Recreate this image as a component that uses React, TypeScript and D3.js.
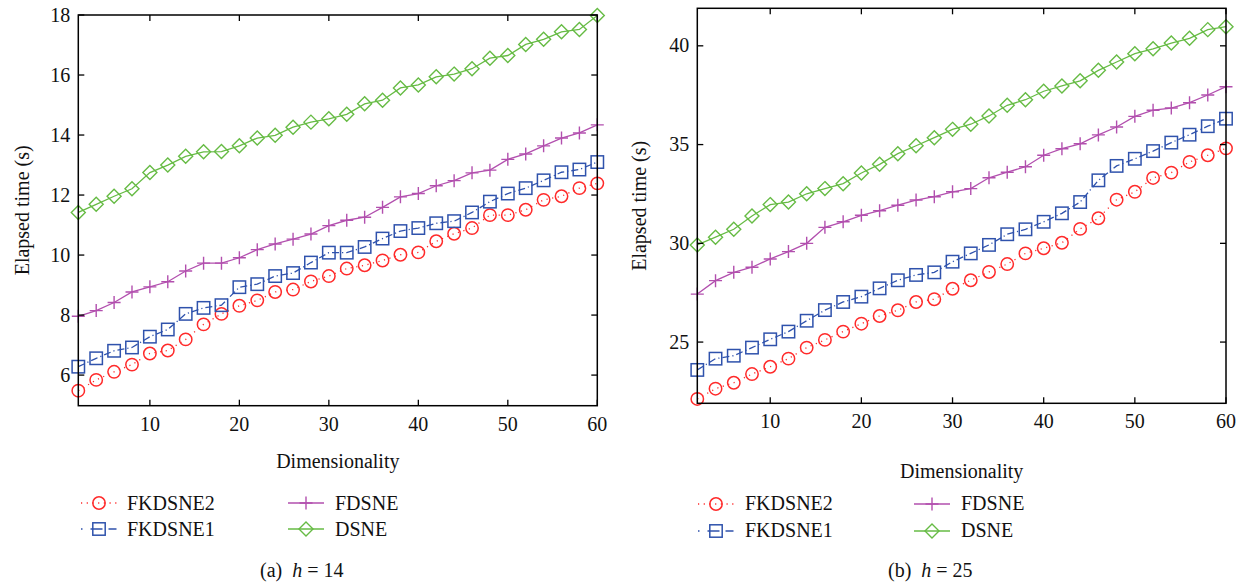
import React, { useEffect, useRef } from 'react';
import * as d3 from 'd3';

// Dimensionality (x categories)
const DIMS = [2, 4, 6, 8, 10, 12, 14, 16, 18, 20, 22, 24, 26, 28, 30, 32, 34, 36, 38, 40, 42, 44, 46, 48, 50, 52, 54, 56, 58, 60];
const X_TICKS = [10, 20, 30, 40, 50, 60];

// (a) h = 14
const A_FKDSNE2 = [5.48, 5.84, 6.11, 6.35, 6.72, 6.82, 7.19, 7.69, 8.04, 8.31, 8.49, 8.77, 8.85, 9.12, 9.30, 9.55, 9.66, 9.82, 10.01, 10.09, 10.46, 10.71, 10.90, 11.33, 11.33, 11.51, 11.84, 11.96, 12.23, 12.39];
const A_FKDSNE1 = [6.28, 6.56, 6.81, 6.92, 7.28, 7.52, 8.04, 8.24, 8.33, 8.93, 9.03, 9.30, 9.40, 9.75, 10.08, 10.08, 10.27, 10.55, 10.80, 10.90, 11.06, 11.13, 11.42, 11.78, 12.05, 12.23, 12.49, 12.76, 12.85, 13.10];
const A_FDSNE = [7.96, 8.15, 8.42, 8.77, 8.94, 9.11, 9.47, 9.73, 9.73, 9.91, 10.18, 10.37, 10.53, 10.70, 10.98, 11.16, 11.26, 11.59, 11.94, 12.05, 12.31, 12.48, 12.74, 12.83, 13.19, 13.37, 13.64, 13.90, 14.07, 14.34];
const A_DSNE = [11.42, 11.69, 11.96, 12.21, 12.75, 13.00, 13.29, 13.44, 13.45, 13.64, 13.90, 13.99, 14.26, 14.43, 14.54, 14.69, 15.04, 15.16, 15.57, 15.67, 15.94, 16.03, 16.21, 16.56, 16.65, 17.02, 17.19, 17.44, 17.52, 17.98];
const A_Y_TICKS = [6, 8, 10, 12, 14, 16, 18];

// (b) h = 25
const B_FKDSNE2 = [22.12, 22.64, 22.94, 23.38, 23.75, 24.16, 24.72, 25.11, 25.53, 25.93, 26.32, 26.61, 27.03, 27.17, 27.70, 28.13, 28.55, 28.95, 29.49, 29.75, 30.03, 30.73, 31.27, 32.21, 32.61, 33.31, 33.58, 34.12, 34.46, 34.81];
const B_FKDSNE1 = [23.59, 24.16, 24.31, 24.72, 25.14, 25.53, 26.08, 26.62, 27.03, 27.30, 27.72, 28.13, 28.40, 28.53, 29.07, 29.49, 29.92, 30.46, 30.71, 31.09, 31.52, 32.09, 33.19, 33.92, 34.28, 34.67, 35.10, 35.50, 35.93, 36.31];
const B_FDSNE = [27.43, 28.11, 28.53, 28.79, 29.21, 29.58, 30.00, 30.81, 31.09, 31.42, 31.65, 31.93, 32.19, 32.36, 32.61, 32.77, 33.32, 33.60, 33.88, 34.46, 34.79, 35.04, 35.49, 35.89, 36.43, 36.74, 36.85, 37.12, 37.51, 37.93];
const B_DSNE = [29.92, 30.31, 30.71, 31.38, 31.96, 32.09, 32.51, 32.77, 33.02, 33.56, 34.00, 34.54, 34.94, 35.35, 35.77, 36.03, 36.45, 36.99, 37.27, 37.70, 37.97, 38.23, 38.76, 39.18, 39.60, 39.85, 40.14, 40.38, 40.82, 40.97];
const B_Y_TICKS = [25, 30, 35, 40];

const SERIES_NAMES = ['FKDSNE2', 'FKDSNE1', 'FDSNE', 'DSNE'];
const Y_TITLE = 'Elapsed time (s)';
const X_TITLE = 'Dimensionality';

const STYLES: Record<string, { color: string; dash: string | null; legendDash: string | null; marker: string }> = {
  FKDSNE2: { color: '#ff2a2a', dash: '1.2 4.5', legendDash: '1.2 4.5', marker: 'circle' },
  FKDSNE1: { color: '#2f52ac', dash: '7 3 1.2 3', legendDash: '1.5 8 12 6 8 20', marker: 'square' },
  FDSNE: { color: '#b24fae', dash: null, legendDash: null, marker: 'plus' },
  DSNE: { color: '#66bb44', dash: null, legendDash: null, marker: 'diamond' },
};

const FONT = "'Liberation Serif', 'Times New Roman', serif";

function drawMarker(g: any, type: string, x: number, y: number, color: string) {
  if (type === 'circle') {
    g.append('circle').attr('cx', x).attr('cy', y).attr('r', 6.2)
      .attr('fill', 'none').attr('stroke', color).attr('stroke-width', 1.5);
  } else if (type === 'square') {
    g.append('rect').attr('x', x - 6.2).attr('y', y - 6.2).attr('width', 12.4).attr('height', 12.4)
      .attr('fill', 'none').attr('stroke', color).attr('stroke-width', 1.5);
  } else if (type === 'diamond') {
    const s = 7;
    g.append('path').attr('d', `M${x},${y - s}L${x + s},${y}L${x},${y + s}L${x - s},${y}Z`)
      .attr('fill', 'none').attr('stroke', color).attr('stroke-width', 1.4);
  } else {
    const s = 6.5;
    g.append('path').attr('d', `M${x - s},${y}L${x + s},${y}M${x},${y - s}L${x},${y + s}`)
      .attr('fill', 'none').attr('stroke', color).attr('stroke-width', 1.4);
  }
}

const PANELS = [
  {
    series: [A_FKDSNE2, A_FKDSNE1, A_FDSNE, A_DSNE],
    yDomain: [4.98, 18], yTicks: A_Y_TICKS,
    left: 78.3, right: 597.3, top: 15, bottom: 405.7,
    yTitleX: 29, xTitleY: 467.5,
    legend: { c1: 81, c2: 288, w: 36, t1: 127, t2: 335, r1: 503, r2: 529, dy: 6.5 },
    caption: { x: 260, y: 577, label: '(a)', num: '14' },
  },
  {
    series: [B_FKDSNE2, B_FKDSNE1, B_FDSNE, B_DSNE],
    yDomain: [21.9, 41.9], yTicks: B_Y_TICKS,
    left: 697.3, right: 1226, top: 8.3, bottom: 403.3,
    yTitleX: 646, xTitleY: 477.5,
    legend: { c1: 698, c2: 914, w: 36, t1: 745, t2: 961, r1: 504, r2: 531, dy: 6 },
    caption: { x: 888, y: 577, label: '(b)', num: '25' },
  },
];

export default function App() {
  const ref = useRef<SVGSVGElement | null>(null);

  useEffect(() => {
    const svg = d3.select(ref.current);
    svg.selectAll('*').remove();

    PANELS.forEach((p) => {
      const x = d3.scaleLinear().domain([2, 60]).range([p.left, p.right]);
      const y = d3.scaleLinear().domain(p.yDomain).range([p.bottom, p.top]);
      const g = svg.append('g');

      // series lines + markers
      p.series.forEach((vals, si) => {
        const name = SERIES_NAMES[si];
        const st = STYLES[name];
        const pts = DIMS.map((d, i) => [d, vals[i]] as [number, number]);
        const line = d3.line<[number, number]>().x((d) => x(d[0])).y((d) => y(d[1]));
        const path = g.append('path').attr('d', line(pts)).attr('fill', 'none')
          .attr('stroke', st.color).attr('stroke-width', 1.3);
        if (st.dash) path.attr('stroke-dasharray', st.dash);
        const mg = g.append('g');
        pts.forEach((pt) => drawMarker(mg, st.marker, x(pt[0]), y(pt[1]), st.color));
      });

      // box
      g.append('rect').attr('x', p.left).attr('y', p.top)
        .attr('width', p.right - p.left).attr('height', p.bottom - p.top)
        .attr('fill', 'none').attr('stroke', '#000').attr('stroke-width', 1.5);

      const tl = 6;
      // x ticks
      X_TICKS.forEach((t) => {
        const xx = x(t);
        g.append('line').attr('x1', xx).attr('x2', xx).attr('y1', p.bottom).attr('y2', p.bottom - tl)
          .attr('stroke', '#000').attr('stroke-width', 1.3);
        g.append('line').attr('x1', xx).attr('x2', xx).attr('y1', p.top).attr('y2', p.top + tl)
          .attr('stroke', '#000').attr('stroke-width', 1.3);
        g.append('text').attr('x', xx).attr('y', p.bottom + 25).attr('text-anchor', 'middle')
          .attr('font-family', FONT).attr('font-size', 20).attr('fill', '#111').text(String(t));
      });
      // y ticks
      p.yTicks.forEach((t) => {
        const yy = y(t);
        g.append('line').attr('x1', p.left).attr('x2', p.left + tl).attr('y1', yy).attr('y2', yy)
          .attr('stroke', '#000').attr('stroke-width', 1.3);
        g.append('line').attr('x1', p.right).attr('x2', p.right - tl).attr('y1', yy).attr('y2', yy)
          .attr('stroke', '#000').attr('stroke-width', 1.3);
        g.append('text').attr('x', p.left - 8).attr('y', yy + 6.5).attr('text-anchor', 'end')
          .attr('font-family', FONT).attr('font-size', 20).attr('fill', '#111').text(String(t));
      });

      // axis titles
      const cy = (p.top + p.bottom) / 2;
      g.append('text').attr('transform', `translate(${p.yTitleX},${cy}) rotate(-90)`)
        .attr('text-anchor', 'middle').attr('font-family', FONT).attr('font-size', 20)
        .attr('fill', '#111').text(Y_TITLE);
      g.append('text').attr('x', (p.left + p.right) / 2).attr('y', p.xTitleY)
        .attr('text-anchor', 'middle').attr('font-family', FONT).attr('font-size', 20)
        .attr('fill', '#111').text(X_TITLE);

      // legend
      const L = p.legend;
      const entries = [
        { name: SERIES_NAMES[0], cx: L.c1, tx: L.t1, cy: L.r1 },
        { name: SERIES_NAMES[1], cx: L.c1, tx: L.t1, cy: L.r2 },
        { name: SERIES_NAMES[2], cx: L.c2, tx: L.t2, cy: L.r1 },
        { name: SERIES_NAMES[3], cx: L.c2, tx: L.t2, cy: L.r2 },
      ];
      entries.forEach((e) => {
        const st = STYLES[e.name];
        const ln = g.append('line').attr('x1', e.cx).attr('x2', e.cx + L.w).attr('y1', e.cy).attr('y2', e.cy)
          .attr('stroke', st.color).attr('stroke-width', 1.3);
        if (st.legendDash) ln.attr('stroke-dasharray', st.legendDash);
        drawMarker(g, st.marker, e.cx + L.w / 2, e.cy, st.color);
        g.append('text').attr('x', e.tx).attr('y', e.cy + L.dy).attr('font-family', FONT)
          .attr('font-size', 20).attr('fill', '#111').text(e.name);
      });

      // caption
      const c = p.caption;
      const ct = g.append('text').attr('x', c.x).attr('y', c.y).attr('font-family', FONT)
        .attr('font-size', 20).attr('fill', '#111');
      ct.append('tspan').text(c.label + '\u2002');
      ct.append('tspan').attr('font-style', 'italic').text('h');
      ct.append('tspan').text(' = ' + c.num);
    });
  }, []);

  return (
    <svg ref={ref} width={1248} height={584}
      style={{ position: 'absolute', left: 0, top: 0, background: '#fff' }} />
  );
}
